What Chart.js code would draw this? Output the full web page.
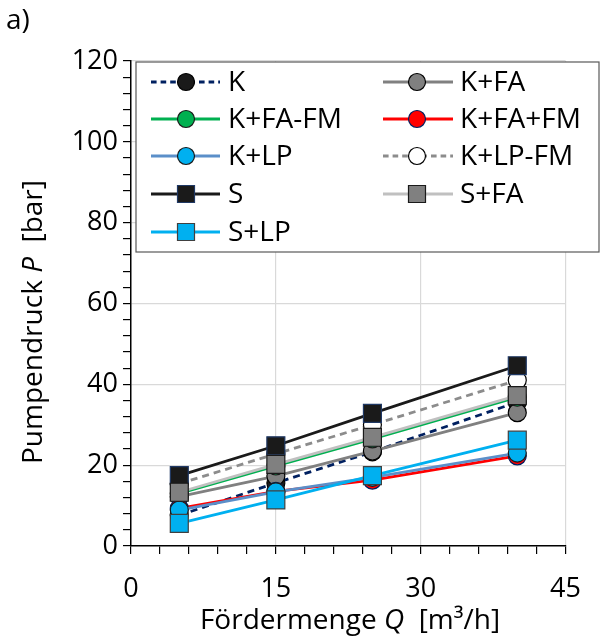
<!DOCTYPE html>
<html>
<head>
<meta charset="utf-8">
<script src="https://cdn.jsdelivr.net/npm/chart.js@4"></script>
<style>
  body { margin: 0; background: #fff; }
  canvas { display: block; }
</style>
</head>
<body>
<canvas id="chart" width="600" height="640"></canvas>
<script>
const flowRates = [5, 15, 25, 40];
const seriesNames = ['K', 'K+FA', 'K+FA-FM', 'K+FA+FM', 'K+LP', 'K+LP-FM', 'S', 'S+FA', 'S+LP'];
const valuesK = [7.6, 15.6, 23.3, 35.6];
const valuesKFA = [12.2, 17.3, 23.5, 33.0];
const valuesKFAminusFM = [13.0, 19.8, 26.5, 36.8];
const valuesKFAplusFM = [9.3, 13.5, 16.3, 22.3];
const valuesKLP = [8.9, 13.4, 17.0, 23.0];
const valuesKLPminusFM = [15.4, 22.8, 30.0, 41.0];
const valuesS = [17.4, 24.8, 32.8, 44.6];
const valuesSFA = [13.3, 20.2, 26.9, 37.2];
const valuesSLP = [5.6, 11.4, 17.4, 26.2];
const xTickLabels = [0, 15, 30, 45];
const yTickLabels = [0, 20, 40, 60, 80, 100, 120];

const FONT = '"Open Sans", sans-serif';

// line colour, dash, marker shape, marker fill, marker border
const styles = [
  { line: '#002060', dash: [7, 5], shape: 'circle', fill: '#1a1a1a', border: '#000000' },
  { line: '#808080', dash: [], shape: 'circle', fill: '#808080', border: '#000000' },
  { line: '#00b050', dash: [], shape: 'circle', fill: '#00b050', border: '#1a1a1a' },
  { line: '#ff0000', dash: [], shape: 'circle', fill: '#ff0000', border: '#002060' },
  { line: '#5b8fc9', dash: [], shape: 'circle', fill: '#00b0f0', border: '#1a1a1a' },
  { line: '#8c8c8c', dash: [7, 5], shape: 'circle', fill: '#ffffff', border: '#000000' },
  { line: '#1a1a1a', dash: [], shape: 'rect', fill: '#1a1a1a', border: '#1f3864' },
  { line: '#c0c0c0', dash: [], shape: 'rect', fill: '#808080', border: '#1a1a1a' },
  { line: '#00b0f0', dash: [], shape: 'rect', fill: '#00b0f0', border: '#404040' }
];

const allValues = [valuesK, valuesKFA, valuesKFAminusFM, valuesKFAplusFM, valuesKLP,
  valuesKLPminusFM, valuesS, valuesSFA, valuesSLP];

const datasets = seriesNames.map((name, i) => ({
  label: name,
  data: flowRates.map((q, j) => ({ x: q, y: allValues[i][j] })),
  borderColor: styles[i].line,
  borderDash: styles[i].dash,
  borderWidth: 2.8,
  pointStyle: styles[i].shape,
  pointRadius: styles[i].shape === 'rect' ? 12.7 : 9,
  pointBackgroundColor: styles[i].fill,
  pointBorderColor: styles[i].border,
  pointBorderWidth: 1.2,
  tension: 0,
  order: seriesNames.length - i
}));

function drawMixed(ctx, parts, cx, cy, size) {
  let total = 0;
  parts.forEach(p => {
    ctx.font = (p.italic ? 'italic ' : '') + size + 'px ' + FONT;
    p.w = ctx.measureText(p.text).width;
    total += p.w;
  });
  let x = cx - total / 2;
  parts.forEach(p => {
    ctx.font = (p.italic ? 'italic ' : '') + size + 'px ' + FONT;
    ctx.fillText(p.text, x, cy);
    x += p.w;
  });
}

const extras = {
  id: 'extras',
  afterDraw(chart) {
    const ctx = chart.ctx;
    ctx.save();
    ctx.fillStyle = '#000';
    ctx.textBaseline = 'middle';
    ctx.textAlign = 'left';

    ctx.font = '28px ' + FONT;
    ctx.fillText('a)', 6, 21);

    drawMixed(ctx, [{ text: 'Fördermenge ' }, { text: 'Q', italic: true }, { text: '  [m³/h]' }], 350, 621, 28);

    ctx.save();
    ctx.translate(34, 322);
    ctx.rotate(-Math.PI / 2);
    drawMixed(ctx, [{ text: 'Pumpendruck ' }, { text: 'P', italic: true }, { text: '  [bar]' }], 0, 0, 28);
    ctx.restore();

    // legend box
    const bx = 136, by = 62, bw = 463, bh = 190;
    ctx.fillStyle = '#fff';
    ctx.fillRect(bx, by, bw, bh);
    ctx.strokeStyle = '#595959';
    ctx.lineWidth = 1.2;
    ctx.strokeRect(bx, by, bw, bh);

    const rowY = [82, 119, 156, 194, 232];
    const cols = [{ x0: 151, x1: 220, m: 186, t: 228 }, { x0: 383, x1: 453, m: 417, t: 460 }];
    seriesNames.forEach((name, i) => {
      const c = cols[i % 2];
      const y = rowY[Math.floor(i / 2)];
      const s = styles[i];
      ctx.beginPath();
      ctx.setLineDash(s.dash.map(d => d * 0.8));
      ctx.strokeStyle = s.line;
      ctx.lineWidth = 2.8;
      ctx.moveTo(c.x0, y);
      ctx.lineTo(c.x1, y);
      ctx.stroke();
      ctx.setLineDash([]);
      ctx.fillStyle = s.fill;
      ctx.strokeStyle = s.border;
      ctx.lineWidth = 1.2;
      ctx.beginPath();
      if (s.shape === 'rect') {
        ctx.rect(c.m - 8.5, y - 8.5, 17, 17);
      } else {
        ctx.arc(c.m, y, 8.5, 0, Math.PI * 2);
      }
      ctx.fill();
      ctx.stroke();
      ctx.fillStyle = '#000';
      ctx.font = '28px ' + FONT;
      ctx.fillText(name, c.t, y + 1);
    });
    ctx.restore();
  }
};

new Chart(document.getElementById('chart'), {
  type: 'line',
  data: { datasets: datasets },
  plugins: [extras],
  options: {
    responsive: false,
    animation: false,
    events: [],
    layout: { padding: { top: 61, right: 30, left: 0, bottom: 0 } },
    plugins: { legend: { display: false }, tooltip: { enabled: false } },
    scales: {
      x: {
        type: 'linear',
        min: 0,
        max: 45,
        afterFit: s => { s.height = 94; },
        ticks: {
          stepSize: 3,
          autoSkip: false,
          maxRotation: 0,
          padding: 19,
          color: '#000',
          font: { family: FONT, size: 27 },
          callback: v => xTickLabels.includes(v) ? String(v) : ''
        },
        grid: {
          color: c => (c.tick && xTickLabels.includes(c.tick.value) && c.tick.value !== 0) ? '#d9d9d9' : 'rgba(0,0,0,0)',
          tickColor: '#000',
          tickLength: 8,
          lineWidth: 1.2
        },
        border: { color: '#000', width: 1.5 }
      },
      y: {
        min: 0,
        max: 120,
        afterFit: s => { s.width = 131; },
        ticks: {
          stepSize: 4,
          autoSkip: false,
          padding: 5,
          color: '#000',
          font: { family: FONT, size: 27 },
          callback: v => yTickLabels.includes(v) ? String(v) : ''
        },
        grid: {
          color: c => (c.tick && yTickLabels.includes(c.tick.value) && c.tick.value !== 0) ? '#d9d9d9' : 'rgba(0,0,0,0)',
          tickColor: '#000',
          tickLength: 8,
          lineWidth: 1.2
        },
        border: { color: '#000', width: 1.5 }
      }
    }
  }
});
</script>
</body>
</html>
